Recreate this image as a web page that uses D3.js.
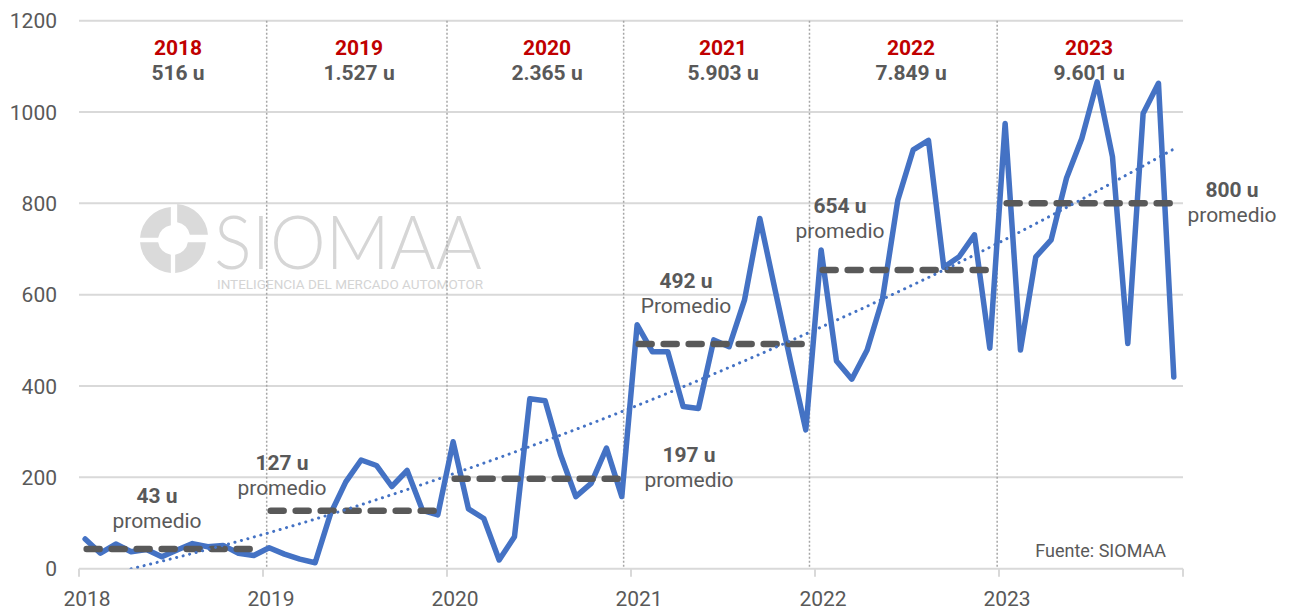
<!DOCTYPE html>
<html>
<head>
<meta charset="utf-8">
<script src="https://cdn.jsdelivr.net/npm/d3@7"></script>
<style>
    body { margin: 0; background: #fff; }
    text { font-family: Roboto, "Noto Sans", sans-serif; }
</style>
</head>
<body>
<script>
//years shown on the axis and their annual totals / monthly averages
var years = [2018, 2019, 2020, 2021, 2022, 2023];
var yearTotals = ["516 u", "1.527 u", "2.365 u", "5.903 u", "7.849 u", "9.601 u"];
var yearAverages = [43, 127, 197, 492, 654, 800];
var avgWords = ["promedio", "promedio", "promedio", "Promedio", "promedio", "promedio"];

//monthly units, Jan 2018 - Dec 2023
var monthly = [
    65, 34, 54, 37, 42, 26, 41, 55, 48, 51, 34, 29,
    46, 32, 21, 13, 120, 190, 238, 226, 180, 215, 128, 118,
    278, 131, 110, 19, 70, 372, 368, 250, 158, 187, 264, 158,
    534, 475, 475, 355, 351, 501, 486, 588, 767, 610, 455, 304,
    698, 455, 415, 479, 590, 807, 917, 938, 660, 683, 731, 483,
    975, 479, 683, 720, 855, 942, 1066, 902, 493, 997, 1063, 420
];

//trend line read at year boundaries
var trendYears = [2018, 2019, 2020, 2021, 2022, 2023, 2024];
var trendValues = [-28, 75, 203, 352, 523, 714, 930];

//dotted separators between years (as drawn)
var separatorYears = [2019.02, 2020.0, 2020.96, 2021.97, 2022.99];

var yTicks = [0, 200, 400, 600, 800, 1000, 1200];

var width = 1290, height = 610;
var plotLeft = 79, plotRight = 1183, plotTop = 20.7, plotBottom = 568.7;
var blue = "#4472C4", grey = "#595959";

var svg = d3.select("body").append("svg")
    .attr("width", width)
    .attr("height", height);

var x = d3.scaleLinear().domain([2018, 2024]).range([plotLeft, plotRight]);
var y = d3.scaleLinear().domain([0, 1200]).range([plotBottom, plotTop]);

//month index -> fractional year (points sit a little after the start of each month)
function monthX(i){ return x(2018 + (i + 0.4) / 12); }

//watermark
var wm = svg.append("g").attr("class", "watermark");
var arc = d3.arc().innerRadius(15).outerRadius(33).padAngle(0.12);
[[0, Math.PI / 2], [Math.PI / 2, Math.PI], [Math.PI, 1.5 * Math.PI], [1.5 * Math.PI, 2 * Math.PI]].forEach(function(a, i){
    var off = i == 0 ? [2, -3] : [0, 0];
    wm.append("path")
        .attr("d", arc({startAngle: a[0], endAngle: a[1]}))
        .attr("transform", "translate(" + (173 + off[0]) + "," + (240 + off[1]) + ")")
        .style("fill", "#dadada");
});
wm.append("text")
    .attr("x", 214).attr("y", 269)
    .attr("textLength", 268).attr("lengthAdjust", "spacingAndGlyphs")
    .style("font-family", "Lato, Roboto, sans-serif")
    .style("font-weight", 300)
    .style("font-size", "74px")
    .style("fill", "#d6d6d6")
    .text("SIOMAA");
wm.append("text")
    .attr("x", 217).attr("y", 289)
    .attr("textLength", 266).attr("lengthAdjust", "spacingAndGlyphs")
    .style("font-size", "13px")
    .style("fill", "#d4d4d4")
    .text("INTELIGENCIA DEL MERCADO AUTOMOTOR");

//horizontal gridlines
svg.selectAll(".grid")
    .data(yTicks)
    .enter()
    .append("line")
    .attr("class", "grid")
    .attr("x1", plotLeft).attr("x2", plotRight)
    .attr("y1", function(d){ return y(d); })
    .attr("y2", function(d){ return y(d); })
    .style("stroke", "#d9d9d9")
    .style("stroke-width", 2);

//y labels
svg.selectAll(".ylab")
    .data(yTicks)
    .enter()
    .append("text")
    .attr("class", "ylab")
    .attr("x", 57)
    .attr("y", function(d){ return y(d); })
    .attr("dy", "0.36em")
    .attr("text-anchor", "end")
    .style("font-size", "21px")
    .style("fill", grey)
    .text(function(d){ return d; });

//x axis ticks and labels
var xTicks = years.concat([2024]);
svg.selectAll(".xtick")
    .data(xTicks)
    .enter()
    .append("line")
    .attr("class", "xtick")
    .attr("x1", function(d){ return x(d); })
    .attr("x2", function(d){ return x(d); })
    .attr("y1", plotBottom).attr("y2", plotBottom + 8)
    .style("stroke", "#d9d9d9")
    .style("stroke-width", 2);

svg.selectAll(".xlab")
    .data(years)
    .enter()
    .append("text")
    .attr("class", "xlab")
    .attr("x", function(d){ return x(d) + 8; })
    .attr("y", 606)
    .attr("text-anchor", "middle")
    .style("font-size", "21px")
    .style("fill", grey)
    .text(function(d){ return d; });

//dotted year separators
svg.selectAll(".sep")
    .data(separatorYears)
    .enter()
    .append("line")
    .attr("class", "sep")
    .attr("x1", function(d){ return x(d); })
    .attr("x2", function(d){ return x(d); })
    .attr("y1", plotTop).attr("y2", plotBottom)
    .style("stroke", "#a6a6a6")
    .style("stroke-width", 1.5)
    .style("stroke-dasharray", "2,2");

//year headers
var headerShift = [7, 4, 8, 0, 4, -2];
var headers = svg.selectAll(".header")
    .data(years)
    .enter()
    .append("g")
    .attr("class", "header")
    .attr("transform", function(d, i){ return "translate(" + (x(d + 0.5) + headerShift[i]) + ",0)"; });
headers.append("text")
    .attr("y", 55)
    .attr("text-anchor", "middle")
    .style("font-size", "21px")
    .style("font-weight", "bold")
    .style("fill", "#c00000")
    .text(function(d){ return d; });
headers.append("text")
    .attr("y", 80)
    .attr("text-anchor", "middle")
    .style("font-size", "21px")
    .style("font-weight", "bold")
    .style("fill", grey)
    .text(function(d, i){ return yearTotals[i]; });

//clip for trend line: between first and last data point, above zero
svg.append("clipPath").attr("id", "trendClip")
    .append("rect")
    .attr("x", monthX(0)).attr("y", plotTop)
    .attr("width", monthX(monthly.length - 1) - monthX(0))
    .attr("height", plotBottom - plotTop);

//monthly line
var line = d3.line()
    .x(function(d, i){ return monthX(i); })
    .y(function(d){ return y(d); });

svg.append("path")
    .datum(monthly)
    .attr("d", line)
    .style("fill", "none")
    .style("stroke", blue)
    .style("stroke-width", 5.5)
    .style("stroke-linejoin", "round")
    .style("stroke-linecap", "round");

//average dashed lines per year
svg.selectAll(".avg")
    .data(yearAverages)
    .enter()
    .append("line")
    .attr("class", "avg")
    .attr("x1", function(d, i){ return x(years[i] + 0.5 / 12); })
    .attr("x2", function(d, i){ return x(years[i] + 11.45 / 12); })
    .attr("y1", function(d){ return y(d); })
    .attr("y2", function(d){ return y(d); })
    .style("stroke", grey)
    .style("stroke-width", 6.5)
    .style("stroke-linecap", "round")
    .style("stroke-dasharray", "13,12");

//trend line
var trendLine = d3.line()
    .curve(d3.curveNatural)
    .x(function(d, i){ return x(trendYears[i]); })
    .y(function(d){ return y(d); });

svg.append("path")
    .datum(trendValues)
    .attr("d", trendLine)
    .attr("clip-path", "url(#trendClip)")
    .style("fill", "none")
    .style("stroke", blue)
    .style("stroke-width", 3)
    .style("stroke-linecap", "round")
    .style("stroke-dasharray", "0.1,6.6");

//average labels
var avgLabelPos = [[157, 503], [282, 470], [689, 462], [686, 288], [840, 213], [1232, 197]];
var avgLabels = svg.selectAll(".avgLabel")
    .data(yearAverages)
    .enter()
    .append("g")
    .attr("class", "avgLabel")
    .attr("transform", function(d, i){ return "translate(" + avgLabelPos[i][0] + "," + avgLabelPos[i][1] + ")"; });
avgLabels.append("text")
    .attr("text-anchor", "middle")
    .style("font-size", "21px")
    .style("font-weight", "bold")
    .style("fill", grey)
    .text(function(d){ return d + " u"; });
avgLabels.append("text")
    .attr("y", 25)
    .attr("text-anchor", "middle")
    .style("font-size", "21px")
    .style("fill", grey)
    .text(function(d, i){ return avgWords[i]; });

//source
svg.append("text")
    .attr("x", 1166).attr("y", 557)
    .attr("text-anchor", "end")
    .style("font-size", "18px")
    .style("fill", grey)
    .text("Fuente: SIOMAA");
</script>
</body>
</html>
